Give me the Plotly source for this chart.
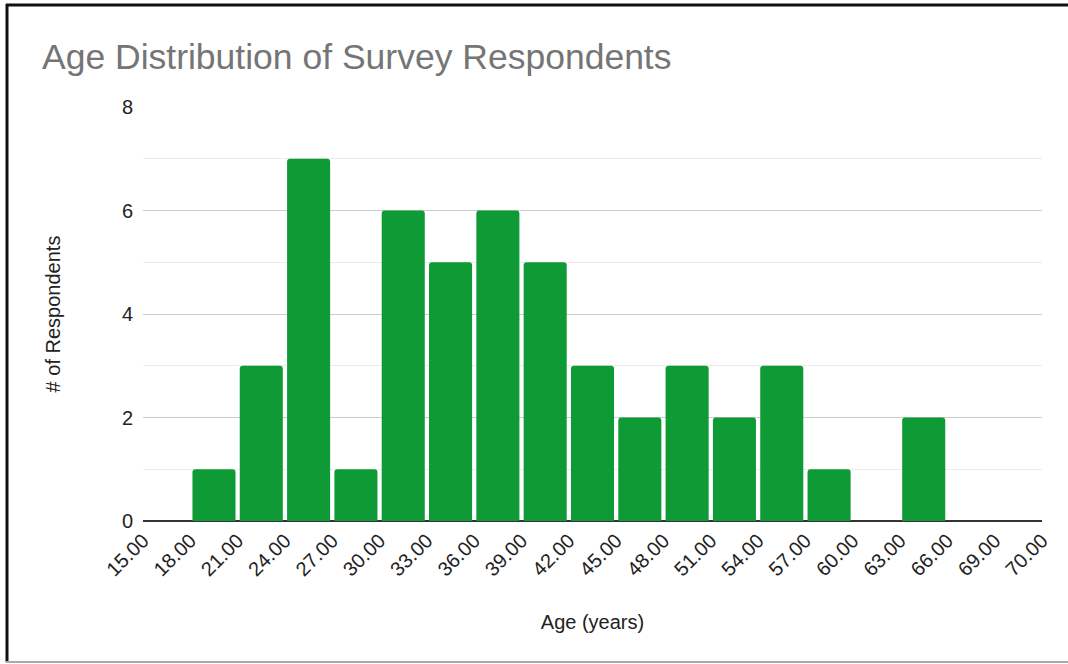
import plotly.graph_objects as go

# Histogram bins (3-year bins, last bin 69-70) and counts
bin_edges = [15, 18, 21, 24, 27, 30, 33, 36, 39, 42, 45, 48, 51, 54, 57, 60, 63, 66, 69, 70]
counts = [0, 1, 3, 7, 1, 6, 5, 6, 5, 3, 2, 3, 2, 3, 1, 0, 2, 0, 0]
y_ticks = [0, 2, 4, 6, 8]

edge_labels = [f"{e:.2f}" for e in bin_edges]
bin_pos = [i + 0.5 for i in range(len(counts))]

fig = go.Figure()
fig.add_trace(go.Bar(
    x=bin_pos,
    y=counts,
    width=0.91,
    marker=dict(color="#0e9a35", line=dict(width=0)),
    hovertemplate="%{y}<extra></extra>",
))

font = "Liberation Sans, Arial, sans-serif"

fig.update_layout(
    width=1068,
    height=664,
    margin=dict(l=143, r=26, t=107, b=143),
    paper_bgcolor="white",
    plot_bgcolor="white",
    showlegend=False,
    barcornerradius=3,
    title=dict(
        text="Age Distribution of Survey Respondents",
        font=dict(family=font, size=35.5, color="#757575"),
        x=42 / 1068, xanchor="left",
        y=1 - 57 / 664, yanchor="middle",
    ),
    xaxis=dict(
        range=[0, len(counts)],
        tickmode="array",
        tickvals=list(range(len(bin_edges))),
        ticktext=edge_labels,
        tickangle=-45,
        tickfont=dict(family=font, size=20, color="#222222"),
        showgrid=False,
        zeroline=False,
        showline=False,
        ticks="",
        ticklabelstandoff=3,
        title=dict(text="Age (years)", font=dict(family=font, size=20, color="#222222"), standoff=35),
    ),
    yaxis=dict(
        range=[0, 8],
        tickmode="array",
        tickvals=y_ticks,
        tickfont=dict(family=font, size=20, color="#222222"),
        showgrid=True,
        gridcolor="#cccccc",
        gridwidth=1,
        minor=dict(dtick=1, showgrid=True, gridcolor="#ebebeb", gridwidth=1),
        zeroline=True,
        zerolinecolor="#333333",
        zerolinewidth=2,
        showline=False,
        ticks="",
        ticklabelstandoff=9,
        title=dict(text="# of Respondents", font=dict(family=font, size=20, color="#222222"), standoff=55),
    ),
)

# Frame around the chart image
plot_w = 1068 - 143 - 26
plot_h = 664 - 107 - 143

def px_x(px):
    return (px - 143) / plot_w

def px_y(py):
    return (664 - 143 - py) / plot_h

fig.add_shape(type="line", xref="paper", yref="paper",
              x0=px_x(6), x1=px_x(1068), y0=px_y(5), y1=px_y(5),
              line=dict(color="#111111", width=3))
fig.add_shape(type="line", xref="paper", yref="paper",
              x0=px_x(7), x1=px_x(7), y0=px_y(4), y1=px_y(662),
              line=dict(color="#111111", width=3))
fig.add_shape(type="line", xref="paper", yref="paper",
              x0=px_x(6), x1=px_x(1068), y0=px_y(662), y1=px_y(662),
              line=dict(color="#aaaaaa", width=2))

fig.write_html("out.html")
